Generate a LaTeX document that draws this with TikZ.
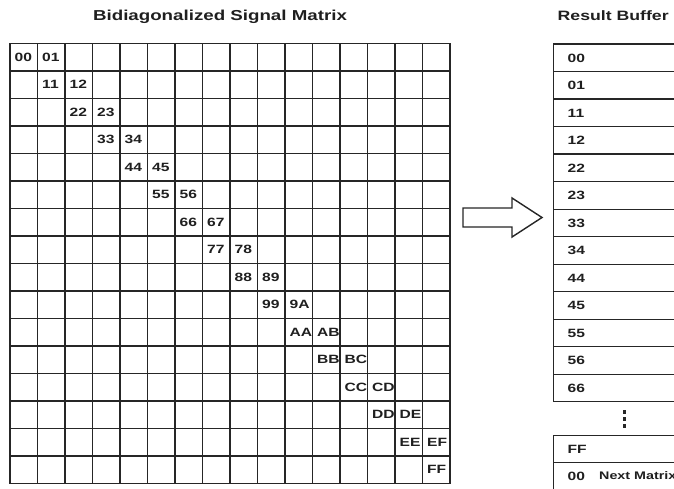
\documentclass[tikz,border=0pt]{standalone}
\usepackage{fontspec}
\setmainfont{Liberation Sans}[FakeStretch=1.3]
\begin{document}
\begin{tikzpicture}[x=1pt,y=-1pt,
  gridline/.style={draw=black!85, line width=1.4pt},
  cellval/.style={anchor=west, inner sep=0pt, font=\fontsize{12}{14}\selectfont\bfseries, text=black!88},
  heading/.style={anchor=base, inner sep=0pt, font=\fontsize{14.4}{17}\selectfont\bfseries, text=black!88},
  bufcell/.style={draw=black!85, line width=1.4pt, anchor=north west, minimum height=27.5pt,
    text width=140pt, inner xsep=14.5pt, inner ysep=0pt, align=left,
    font=\fontsize{12}{14}\selectfont\bfseries, text=black!88},
  blockarrow/.style={draw=black!85, line width=1.4pt, fill=white, line join=miter}
]
\useasboundingbox (0,0) rectangle (674,489);
\clip (0,0) rectangle (674,489);

% headings
\node[heading] (mtitle) at (220,20.5) {Bidiagonalized Signal Matrix};
\node[heading, anchor=base west, font=\fontsize{13.6}{16}\selectfont\bfseries] (btitle) at (557.5,20.5) {Result Buffer};

% 16 x 16 matrix grid
\foreach \k in {0,...,16} {
  \draw[gridline] ({10+27.5*\k},43.5) -- ({10+27.5*\k},483.5);
  \draw[gridline] (10,{43.5+27.5*\k}) -- (450,{43.5+27.5*\k});
}

% main diagonal and super-diagonal entries
\foreach \a/\b [count=\i from 0] in {0/1,1/2,2/3,3/4,4/5,5/6,6/7,7/8,8/9,9/A,A/B,B/C,C/D,D/E,E/F} {
  \node[cellval] (m\a\a) at ({14.5+27.5*\i},{57.25+27.5*\i}) {\a\a};
  \node[cellval] (m\a\b) at ({14.5+27.5*(\i+1)},{57.25+27.5*\i}) {\a\b};
}
\node[cellval] (mFF) at ({14.5+27.5*15},{57.25+27.5*15}) {FF};

% transfer arrow
\draw[blockarrow] (463,208) -- (512,208) -- (512,198) -- (542,217.5)
  -- (512,237) -- (512,227) -- (463,227) -- cycle;

% result buffer
\foreach \v [count=\i from 0] in {00,01,11,12,22,23,33,34,44,45,55,56,66} {
  \node[bufcell] (b\i) at (552.5,{43.5+27.5*\i}) {\v};
}

% continuation dots
\foreach \j in {0,1,2} {
  \fill[black!85] (622.8,{409.5+7*\j}) rectangle (625.6,{413.5+7*\j});
}

% tail of the buffer
\node[bufcell] (bFF) at (552.5,434.5) {FF};
\node[bufcell] (bnext) at (552.5,462) {00};
\node[cellval, font=\fontsize{11}{13}\selectfont\bfseries] (nextlbl) at (599,475.75) {Next Matrix};
\end{tikzpicture}
\end{document}
